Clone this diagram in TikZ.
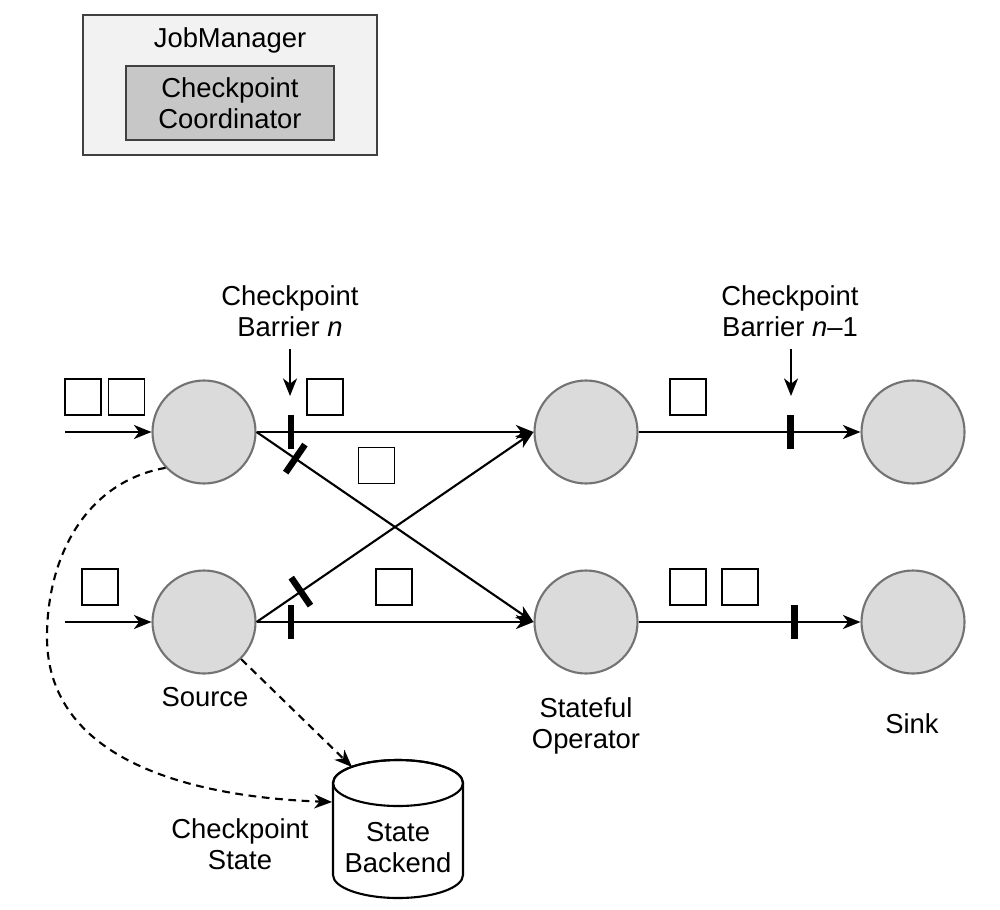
\documentclass[tikz,border=0pt]{standalone}
\usepackage{fontspec}
\setmainfont{Liberation Sans}
\usetikzlibrary{arrows.meta}

\begin{document}
\begin{tikzpicture}[
    font=\fontsize{7.8}{8.8}\selectfont,
    >={Stealth[length=5pt,width=4pt,inset=1.5pt]},
    task/.style={circle,draw=black!55,fill=black!14,line width=0.6pt,minimum size=1.03cm,inner sep=0pt},
    record/.style={draw,line width=0.55pt,minimum size=0.36cm,inner sep=0pt},
    barmark/.style={fill=black,minimum width=0.065cm,minimum height=0.34cm,inner sep=0pt,sloped,allow upside down},
    flow/.style={->,line width=0.6pt},
    statelink/.style={->,line width=0.6pt,dash pattern=on 2.2pt off 1.6pt}
  ]
  \useasboundingbox (0,0) rectangle (10,9.09);

  \node[draw=black!75,fill=black!5,line width=0.7pt,minimum width=2.94cm,minimum height=1.40cm] (jm) at (2.30,8.24) {};
  \node (jmname) at (2.30,8.69) {JobManager};
  \node[draw=black!75,fill=black!22,line width=0.7pt,minimum width=2.08cm,minimum height=0.70cm,align=center] (coord) at (2.30,8.06) {Checkpoint\\Coordinator};

  \draw
    (2.04,4.77) node[task] (src1) {}
    (2.04,2.87) node[task] (src2) {}
    (5.86,4.77) node[task] (op1) {}
    (5.86,2.87) node[task] (op2) {}
    (9.13,4.77) node[task] (snk1) {}
    (9.13,2.87) node[task] (snk2) {};

  \draw
    (0.83,5.12) node[record] (r1) {}
    (1.265,5.12) node[record] (r2) {}
    (1.00,3.22) node[record] (r3) {}
    (3.25,5.12) node[record] (r4) {}
    (3.765,4.435) node[record] (r5) {}
    (3.94,3.22) node[record] (r6) {}
    (6.88,5.12) node[record] (r7) {}
    (6.88,3.22) node[record] (r8) {}
    (7.40,3.22) node[record] (r9) {};

  \coordinate (in1) at (0.65,4.77);
  \coordinate (in2) at (0.65,2.87);
  \draw[flow] (in1) -- (src1);
  \draw[flow] (in2) -- (src2);
  \draw[flow] (src1) -- node[barmark,pos=0.124] {} (op1);
  \draw[flow] (src1.east) -- node[barmark,pos=0.14] {} (op2.west);
  \draw[flow] (src2.east) -- node[barmark,pos=0.16] {} (op1.west);
  \draw[flow] (src2) -- node[barmark,pos=0.124] {} (op2);
  \draw[flow] (op1) -- node[barmark,pos=0.685] {} (snk1);
  \draw[flow] (op2) -- node[barmark,pos=0.703] {} (snk2);

  \node[align=center] (barn) at (2.90,5.98) {Checkpoint\\Barrier \textit{n}};
  \node[align=center] (barprev) at (7.90,5.98) {Checkpoint\\Barrier \textit{n}--1};
  \coordinate (barntip) at (2.90,5.13);
  \coordinate (barprevtip) at (7.91,5.13);
  \draw[flow] (barn) -- (barntip);
  \draw[flow] (barprev.south -| barprevtip) -- (barprevtip);

  \node (srclbl) at (2.05,2.12) {Source};
  \node[align=center] (oplbl) at (5.86,1.83) {Stateful\\Operator};
  \node (snklbl) at (9.12,1.85) {Sink};
  \node[align=center] (cplbl) at (2.40,0.645) {Checkpoint\\State};

  \draw[line width=0.6pt,fill=white] (3.33,1.26) -- (3.33,0.34)
    arc[start angle=180,end angle=360,x radius=0.65,y radius=0.23] -- (4.63,1.26)
    arc[start angle=0,end angle=180,x radius=0.65,y radius=0.23] -- cycle;
  \draw[line width=0.6pt] (3.98,1.26) ellipse[x radius=0.65,y radius=0.23];
  \node[align=center] (backend) at (3.98,0.615) {State\\Backend};
  \coordinate (bktop) at (3.52,1.42);
  \coordinate (bkside) at (3.32,1.07);

  \coordinate (bend) at (0.47,2.72);
  \draw[statelink] (src1.223) to[out=190,in=90] (bend) to[out=-90,in=178] (bkside);
  \draw[statelink] (src2.-45) -- (bktop);
\end{tikzpicture}
\end{document}
